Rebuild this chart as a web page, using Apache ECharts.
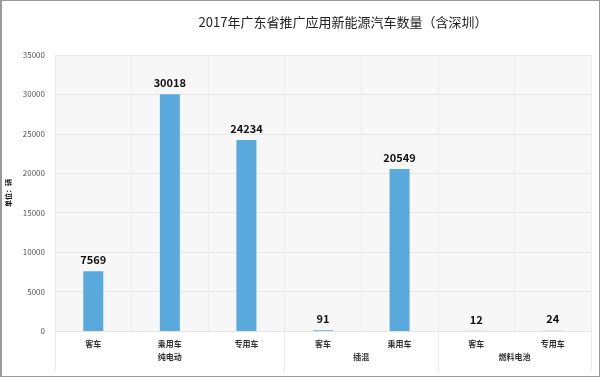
<!DOCTYPE html>
<html>
<head>
<meta charset="utf-8">
<script src="https://cdn.jsdelivr.net/npm/echarts@6/dist/echarts.min.js"></script>
<style>
  html, body { margin: 0; padding: 0; background: #fff; }
  #chart { width: 600px; height: 377px; box-sizing: border-box; border: 1px solid #9a9a9a; border-left-width: 2px; }
</style>
</head>
<body>
<div id="chart"></div>
<script>
var categories = ['客车', '乘用车', '专用车', '客车', '乘用车', '客车', '专用车'];
var values = [7569, 30018, 24234, 91, 20549, 12, 24];
// 第二层分组（半格为单位，共15个点）
var groupLabels = ['', '', '', '纯电动', '', '', '', '', '插混', '', '', '', '燃料电池', '', ''];
var groupTicks = [0, 6, 10, 14];
var yTicks = [0, 5000, 10000, 15000, 20000, 25000, 30000, 35000];

var fontCN = '"Noto Sans CJK SC", "Noto Sans", sans-serif';

var option = {
    title: {
        text: '2017年广东省推广应用新能源汽车数量（含深圳）',
        left: 336,
        top: 10,
        textAlign: 'center',
        textStyle: { fontSize: 13, fontWeight: 'normal', color: '#222', fontFamily: fontCN }
    },
    grid: {
        left: 53,
        right: 8,
        top: 54,
        bottom: 45,
        outerBoundsMode: 'none',
        containLabel: false,
        show: true,
        backgroundColor: '#f7f7f7',
        borderWidth: 0
    },
    xAxis: [
        {
            type: 'category',
            data: categories,
            axisLine: { show: true, lineStyle: { color: '#e4e4e4' } },
            axisTick: { show: false },
            splitLine: { show: true, lineStyle: { color: '#ebebeb' } },
            axisLabel: { interval: 0, fontSize: 8, fontWeight: 'bold', color: '#333', margin: 9, fontFamily: fontCN }
        },
        {
            type: 'category',
            position: 'bottom',
            boundaryGap: false,
            data: groupLabels,
            axisLine: { show: false },
            axisTick: {
                show: true,
                length: 41,
                inside: false,
                interval: function (index) { return groupTicks.indexOf(index) >= 0; },
                lineStyle: { color: '#ebebeb' }
            },
            axisLabel: { interval: 0, fontSize: 8, fontWeight: 'bold', color: '#333', margin: 22, fontFamily: fontCN }
        }
    ],
    yAxis: {
        type: 'value',
        min: yTicks[0],
        max: yTicks[yTicks.length - 1],
        interval: 5000,
        name: '单位：辆',
        nameLocation: 'middle',
        nameGap: 36,
        nameRotate: 90,
        nameTextStyle: { fontSize: 7, fontWeight: 'bold', color: '#111', fontFamily: fontCN },
        axisLine: { show: false },
        axisTick: { show: false },
        splitLine: { show: true, lineStyle: { color: '#e6e6e6' } },
        axisLabel: {
            fontSize: 8, color: '#555', margin: 10, fontFamily: fontCN,
            formatter: function (v) { return String(v); }
        }
    },
    series: [
        {
            type: 'bar',
            data: values,
            barWidth: 20,
            itemStyle: { color: '#5aa9dd' },
            label: {
                show: true,
                position: 'top',
                distance: 6,
                fontSize: 11,
                fontWeight: 'bold',
                color: '#111',
                fontFamily: fontCN
            }
        }
    ]
};

var chart = echarts.init(document.getElementById('chart'));
chart.setOption(option);
</script>
</body>
</html>
